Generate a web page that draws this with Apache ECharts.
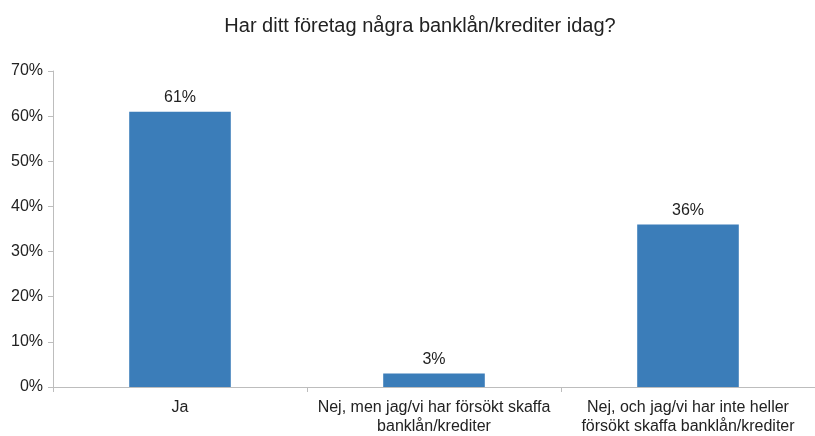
<!DOCTYPE html>
<html><head><meta charset="utf-8">
<script src="https://cdn.jsdelivr.net/npm/echarts@6/dist/echarts.min.js"></script>
<style>html,body{margin:0;padding:0;background:#fff}#c{width:815px;height:436px}</style>
</head><body><div id="c"></div>
<script>
const title = 'Har ditt företag några banklån/krediter idag?';
const categories = ['Ja', 'Nej, men jag/vi har försökt skaffa\nbanklån/krediter', 'Nej, och jag/vi har inte heller\nförsökt skaffa banklån/krediter'];
const values = [61, 3, 36];
const chart = echarts.init(document.getElementById('c'));
chart.setOption({
  animation: false,
  textStyle: {fontFamily: 'Liberation Sans, Arial, sans-serif'},
  title: {text: title, left: 415, textAlign: 'center', top: 11,
    textStyle: {fontSize: 20, fontWeight: 'normal', color: '#222', fontFamily: 'Liberation Sans, Arial, sans-serif'}},
  grid: {left: 53, right: -7, top: 71, bottom: 48, containLabel: false},
  xAxis: {type: 'category', data: categories,
    axisLine: {lineStyle: {color: '#bdbdbd', width: 1}},
    axisTick: {show: true, alignWithLabel: false, length: 5, lineStyle: {color: '#bdbdbd'}},
    axisLabel: {interval: 0, fontSize: 16, color: '#222', lineHeight: 19, margin: 11}},
  yAxis: {type: 'value', min: 0, max: 70, interval: 10,
    axisLine: {show: true, lineStyle: {color: '#bdbdbd'}},
    axisTick: {show: true, length: 5, lineStyle: {color: '#bdbdbd'}},
    splitLine: {show: false},
    axisLabel: {formatter: '{value}%', fontSize: 16, color: '#222', margin: 10}},
  series: [{type: 'bar', data: values, barWidth: '40%',
    itemStyle: {color: '#3b7db9'},
    label: {show: true, position: 'top', formatter: '{c}%', fontSize: 16, color: '#222', distance: 6}}]
});
</script></body></html>
